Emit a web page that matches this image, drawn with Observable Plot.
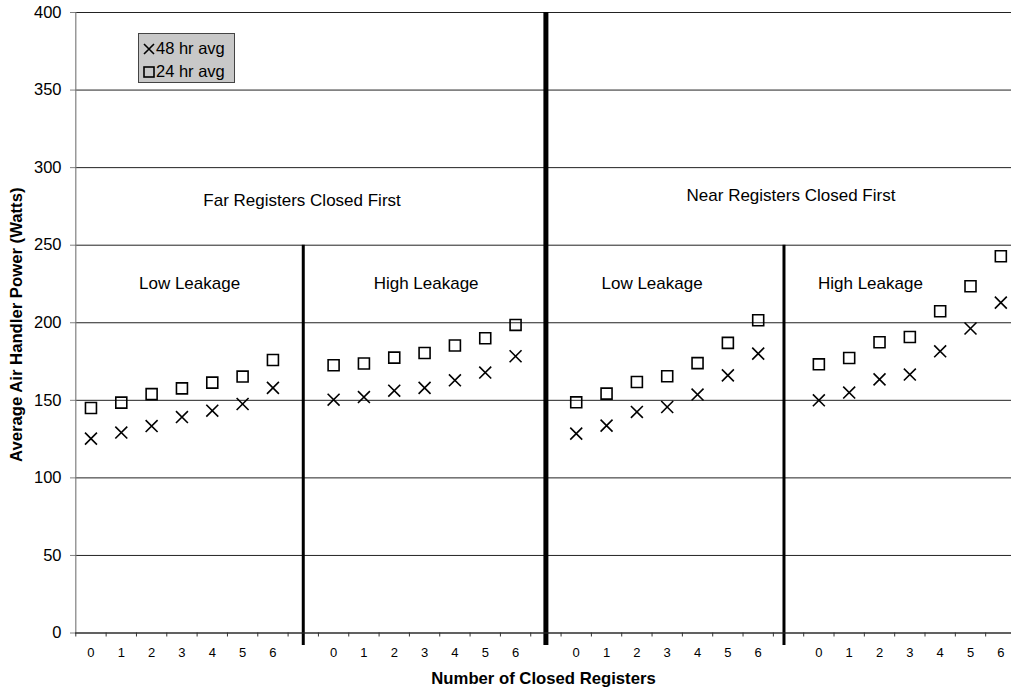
<!DOCTYPE html>
<html>
<head>
<meta charset="utf-8">
<script src="https://cdn.jsdelivr.net/npm/d3@7"></script>
<script src="https://cdn.jsdelivr.net/npm/@observablehq/plot@0.6"></script>
<style>
  html, body { margin: 0; padding: 0; background: #fff; overflow: hidden; }
  #wrap { position: relative; width: 1011px; height: 690px; font-family: "Liberation Sans", Arial, sans-serif; }
  #legend { position: absolute; left: 138px; top: 33px; width: 97px; height: 50px; background: #c8c8c8; border: 1px solid #444; font-size: 16.5px; color: #000; box-sizing: border-box; padding: 3px 0 0 4px; line-height: 23px; }
  #legend div { display: flex; align-items: center; height: 23px; }
  #legend svg { margin-right: 1px; }
</style>
</head>
<body>
<div id="wrap">
  <div id="chart"></div>
  <div id="legend">
    <div><svg width="12" height="12"><path d="M1,1L11,11M11,1L1,11" stroke="#000" stroke-width="1.6"/></svg>48 hr avg</div>
    <div><svg width="12" height="12"><rect x="1" y="1" width="10" height="10" fill="none" stroke="#000" stroke-width="1.6"/></svg>24 hr avg</div>
  </div>
</div>
<script>
// ---- data ----
const groups = ["Far Low", "Far High", "Near Low", "Near High"];
const registers = [0, 1, 2, 3, 4, 5, 6];
const avg24 = [
  [145, 148.5, 154, 157.7, 161.4, 165.3, 176],
  [172.6, 173.7, 177.5, 180.5, 185.3, 190, 198.6],
  [148.7, 154.3, 161.8, 165.5, 174, 187, 201.6],
  [173.2, 177.3, 187.4, 190.8, 207.4, 223.5, 242.9]
];
const avg48 = [
  [125.3, 129.2, 133.4, 139.2, 143.3, 147.6, 158],
  [150.4, 152.1, 156.2, 158, 162.9, 167.9, 178.4],
  [128.5, 133.7, 142.5, 145.7, 153.7, 166.1, 180.1],
  [150, 155, 163.5, 166.6, 181.6, 196.3, 213]
];
const yTicks = [0, 50, 100, 150, 200, 250, 300, 350, 400];
// slot labels along the category axis (blank slots hold the dividers)
const slotLabels = ["0","1","2","3","4","5","6","", "0","1","2","3","4","5","6","", "0","1","2","3","4","5","6","", "0","1","2","3","4","5","6"];
const dividerX = [7, 15, 22.85];
const dividerTop = [250, 400, 250];
const dividerWidth = [3, 5, 3];
const noteText = ["Far Registers Closed First", "Near Registers Closed First", "Low Leakage", "High Leakage", "Low Leakage", "High Leakage"];
const noteX = [6.96, 23.08, 3.25, 11.05, 18.5, 25.7];
const noteY = [279, 282, 225.5, 225.5, 225.5, 225.5];

// ---- tables ----
const points = [];
groups.forEach((g, gi) => registers.forEach((r, ri) => {
  points.push({slot: gi * 8 + r, avg24: avg24[gi][ri], avg48: avg48[gi][ri]});
}));
const dividers = dividerX.map((x, i) => ({x, top: dividerTop[i], w: dividerWidth[i]}));
const notes = noteText.map((t, i) => ({t, x: noteX[i], y: noteY[i]}));
const labelSlots = slotLabels.map((d, i) => i).filter(i => slotLabels[i] !== "");
const boundaries = d3.range(slotLabels.length + 1).map(i => i - 0.5);

const chart = Plot.plot({
  width: 1011,
  height: 690,
  marginLeft: 75,
  marginRight: 0,
  marginTop: 12,
  marginBottom: 57.5,
  style: {fontFamily: '"Liberation Sans", Arial, sans-serif', fontSize: "16.5px", color: "#000", background: "#fff"},
  x: {domain: [-0.5, slotLabels.length - 0.5], range: [75.3, 1015.5], label: null},
  y: {domain: [0, 400], label: null},
  marks: [
    Plot.ruleY(yTicks, {stroke: "#222", strokeWidth: 1}),
    Plot.ruleX(dividers, {x: "x", y1: "top", y2: -8, strokeWidth: "w", stroke: "#000"}),
    Plot.ruleX([-0.5], {stroke: "#808080", strokeWidth: 1.2}),
    Plot.ruleY([0], {stroke: "#333", strokeWidth: 1.2}),
    Plot.axisY({ticks: yTicks, tickSize: 5, tickPadding: 9, stroke: "#808080", color: "#000", label: null}),
    Plot.axisX({ticks: boundaries, tickSize: 4, tickFormat: () => "", stroke: "#333", label: null}),
    Plot.axisX({ticks: labelSlots, tickSize: 0, tickPadding: 15, fontSize: 13, tickFormat: d => slotLabels[d], label: null}),
    Plot.dot(points, {x: "slot", y: "avg24", symbol: "square", r: 6.2, fill: "none", stroke: "#000", strokeWidth: 1.6}),
    Plot.dot(points, {x: "slot", y: "avg48", symbol: "times", r: 5.5, fill: "none", stroke: "#000", strokeWidth: 1.6}),
    Plot.text(notes, {x: "x", y: "y", text: "t", fontSize: 17, fill: "#000"}),
    Plot.text(["Number of Closed Registers"], {frameAnchor: "bottom", dy: 51, fontWeight: "bold", fontSize: 16.7, fill: "#000"}),
    Plot.text(["Average Air Handler Power (Watts)"], {frameAnchor: "left", textAnchor: "middle", rotate: -90, dx: -59, dy: 2, fontWeight: "bold", fontSize: 16.7, fill: "#000"})
  ]
});
document.getElementById("chart").appendChild(chart);
</script>
</body>
</html>
